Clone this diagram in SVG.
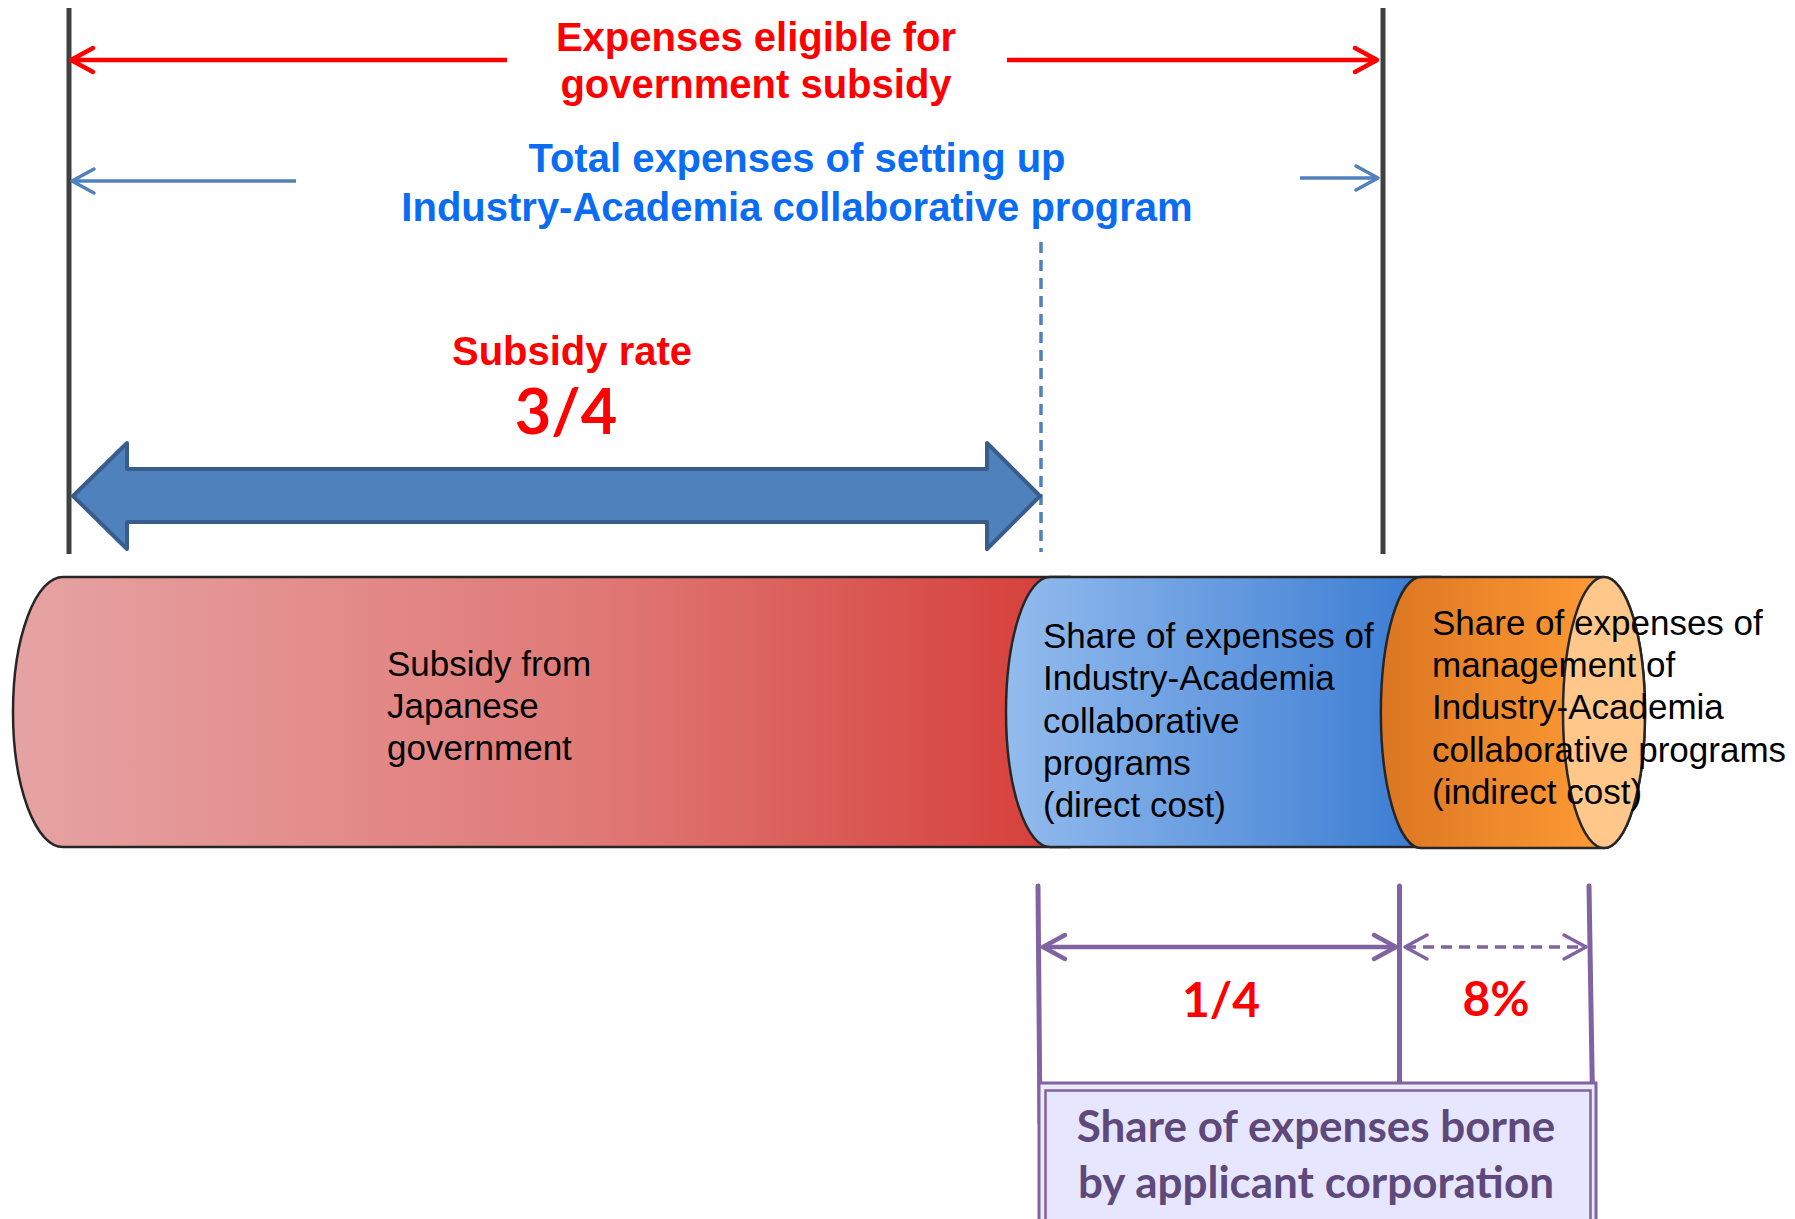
<svg xmlns="http://www.w3.org/2000/svg" width="1795" height="1219" viewBox="0 0 1795 1219">
<style>
.t-title{font-family:"Liberation Sans",Arial,sans-serif;font-weight:bold;font-size:40px;text-anchor:middle}
.t-body{font-family:"Liberation Sans",Arial,sans-serif;font-size:35px;fill:#000}
.t-cal{font-family:Lato,"Open Sans",sans-serif;font-weight:bold;text-anchor:middle}
.red{fill:#FF0000}
.blue{fill:#0A6CF2}
.can{stroke:#262626;stroke-width:2.5}
.vline{stroke:#404040;stroke-width:5;fill:none}
.pline{stroke:#8064A2;stroke-width:5;fill:none;stroke-linecap:round}
</style>
<defs>
<linearGradient id="gRed" gradientUnits="userSpaceOnUse" x1="13" y1="0" x2="1050" y2="0">
<stop offset="0" stop-color="#E6A3A3"/><stop offset="0.55" stop-color="#E07A77"/><stop offset="1" stop-color="#D6403B"/>
</linearGradient>
<linearGradient id="gBlue" gradientUnits="userSpaceOnUse" x1="1006" y1="0" x2="1420" y2="0">
<stop offset="0" stop-color="#93BCEE"/><stop offset="1" stop-color="#3B7CD2"/>
</linearGradient>
<linearGradient id="gOrange" gradientUnits="userSpaceOnUse" x1="1381" y1="0" x2="1604" y2="0">
<stop offset="0" stop-color="#DB7622"/><stop offset="1" stop-color="#FF9A35"/>
</linearGradient>
<marker id="mRed" viewBox="-2 -2 26 28" refX="22" refY="12" markerWidth="26" markerHeight="28" markerUnits="userSpaceOnUse" orient="auto" overflow="visible">
<path d="M0,0 L22,12 L0,24" fill="none" stroke="#FF0000" stroke-width="4.5" stroke-linecap="round" stroke-linejoin="round"/>
</marker>
<marker id="mBlue" viewBox="-2 -2 26 28" refX="22" refY="12" markerWidth="26" markerHeight="28" markerUnits="userSpaceOnUse" orient="auto" overflow="visible">
<path d="M0,0 L22,12 L0,24" fill="none" stroke="#4F81BD" stroke-width="3.5" stroke-linecap="round" stroke-linejoin="round"/>
</marker>
<marker id="mPurple" viewBox="-2 -2 26 28" refX="22" refY="12" markerWidth="26" markerHeight="28" markerUnits="userSpaceOnUse" orient="auto-start-reverse" overflow="visible">
<path d="M0,0 L22,12 L0,24" fill="none" stroke="#8064A2" stroke-width="4.5" stroke-linecap="round" stroke-linejoin="round"/>
</marker>
<marker id="mPurpleThin" viewBox="-2 -2 26 28" refX="22" refY="12" markerWidth="26" markerHeight="28" markerUnits="userSpaceOnUse" orient="auto-start-reverse" overflow="visible">
<path d="M0,0 L22,12 L0,24" fill="none" stroke="#8064A2" stroke-width="3.5" stroke-linecap="round" stroke-linejoin="round"/>
</marker>
</defs>
<rect width="1795" height="1219" fill="#FFFFFF"/>

<g id="cylinder-subsidy">
<path class="can" fill="url(#gRed)" d="M63,577 A50,135 0 0 0 63,847 L1070,847 L1070,577 Z"/>
<text class="t-body" x="387"><tspan x="387" y="676">Subsidy from</tspan><tspan x="387" y="718">Japanese</tspan><tspan x="387" y="760">government</tspan></text>
</g>
<g id="cylinder-direct">
<path class="can" fill="url(#gBlue)" d="M1050,577 A44,135 0 0 0 1050,847 L1440,847 L1440,577 Z"/>
<text class="t-body"><tspan x="1043" y="648">Share of expenses of</tspan><tspan x="1043" y="690">Industry-Academia</tspan><tspan x="1043" y="733">collaborative</tspan><tspan x="1043" y="775">programs</tspan><tspan x="1043" y="817">(direct cost)</tspan></text>
</g>
<g id="cylinder-indirect">
<path class="can" fill="url(#gOrange)" d="M1421,577 A40,135 0 0 0 1421,848 L1604,848 A41,135.5 0 0 0 1604,577 Z"/>
<ellipse class="can" cx="1604" cy="712.5" rx="41" ry="135.5" fill="#FFC78A"/>
<text class="t-body"><tspan x="1432" y="635">Share of expenses of</tspan><tspan x="1432" y="677">management of</tspan><tspan x="1432" y="719">Industry-Academia</tspan><tspan x="1432" y="762">collaborative programs</tspan><tspan x="1432" y="804">(indirect cost)</tspan></text>
</g>

<g id="connectors">
<line class="vline" x1="69" y1="8" x2="69" y2="554"/>
<line class="vline" x1="1383" y1="8" x2="1383" y2="554"/>
<line x1="507" y1="60" x2="71" y2="60" stroke="#FF0000" stroke-width="4.5" marker-end="url(#mRed)"/>
<line x1="1007" y1="60" x2="1377" y2="60" stroke="#FF0000" stroke-width="4.5" marker-end="url(#mRed)"/>
<line x1="296" y1="181" x2="72" y2="181" stroke="#4F81BD" stroke-width="3.5" marker-end="url(#mBlue)"/>
<line x1="1300" y1="178" x2="1378" y2="178" stroke="#4F81BD" stroke-width="3.5" marker-end="url(#mBlue)"/>
<line x1="1041" y1="242" x2="1041" y2="552" stroke="#4F81BD" stroke-width="3.5" stroke-dasharray="11 7"/>
<path id="subsidy-arrow" d="M73,496 L127,443 L127,469 L987,469 L987,443 L1040,496 L987,549 L987,522 L127,522 L127,549 Z" fill="#4F81BD" stroke="#385D8A" stroke-width="4" stroke-linejoin="round"/>
<line class="pline" x1="1038" y1="886" x2="1040" y2="1123"/>
<line class="pline" x1="1399.5" y1="886" x2="1399.5" y2="1083"/>
<line class="pline" x1="1589" y1="886" x2="1593" y2="1128"/>
<line x1="1043" y1="947" x2="1396" y2="947" stroke="#8064A2" stroke-width="4.5" marker-start="url(#mPurple)" marker-end="url(#mPurple)"/>
<line x1="1405" y1="947" x2="1586" y2="947" stroke="#8064A2" stroke-width="3.5" stroke-dasharray="11 7" marker-start="url(#mPurpleThin)" marker-end="url(#mPurpleThin)"/>
</g>

<g id="label-eligible">
<text class="t-title red"><tspan x="756" y="51">Expenses eligible for</tspan><tspan x="756" y="98">government subsidy</tspan></text>
</g>
<g id="label-total">
<text class="t-title blue" font-size="40.5"><tspan x="797" y="172">Total expenses of setting up</tspan><tspan x="797" y="221">Industry-Academia collaborative program</tspan></text>
</g>
<g id="label-rate">
<text class="t-title red" x="572" y="365">Subsidy rate</text>
<text class="t-cal red" x="566" y="434" font-size="63">3/4</text>
</g>
<g id="label-quarter">
<text class="t-cal red" x="1221" y="1017" font-size="48">1/4</text>
</g>
<g id="label-eight">
<text class="t-cal red" x="1496" y="1016" font-size="48">8%</text>
</g>
<g id="box-applicant">
<rect x="1039" y="1083" width="557" height="150" fill="#ECEAF8" stroke="#8064A2" stroke-width="3"/>
<rect x="1045.5" y="1090.5" width="545" height="140" fill="#E6E6FF" stroke="#8064A2" stroke-width="2.5"/>
<text class="t-cal" font-size="44" fill="#5F497A"><tspan x="1316" y="1142">Share of expenses borne</tspan><tspan x="1316" y="1198">by applicant corporation</tspan></text>
</g>
</svg>
